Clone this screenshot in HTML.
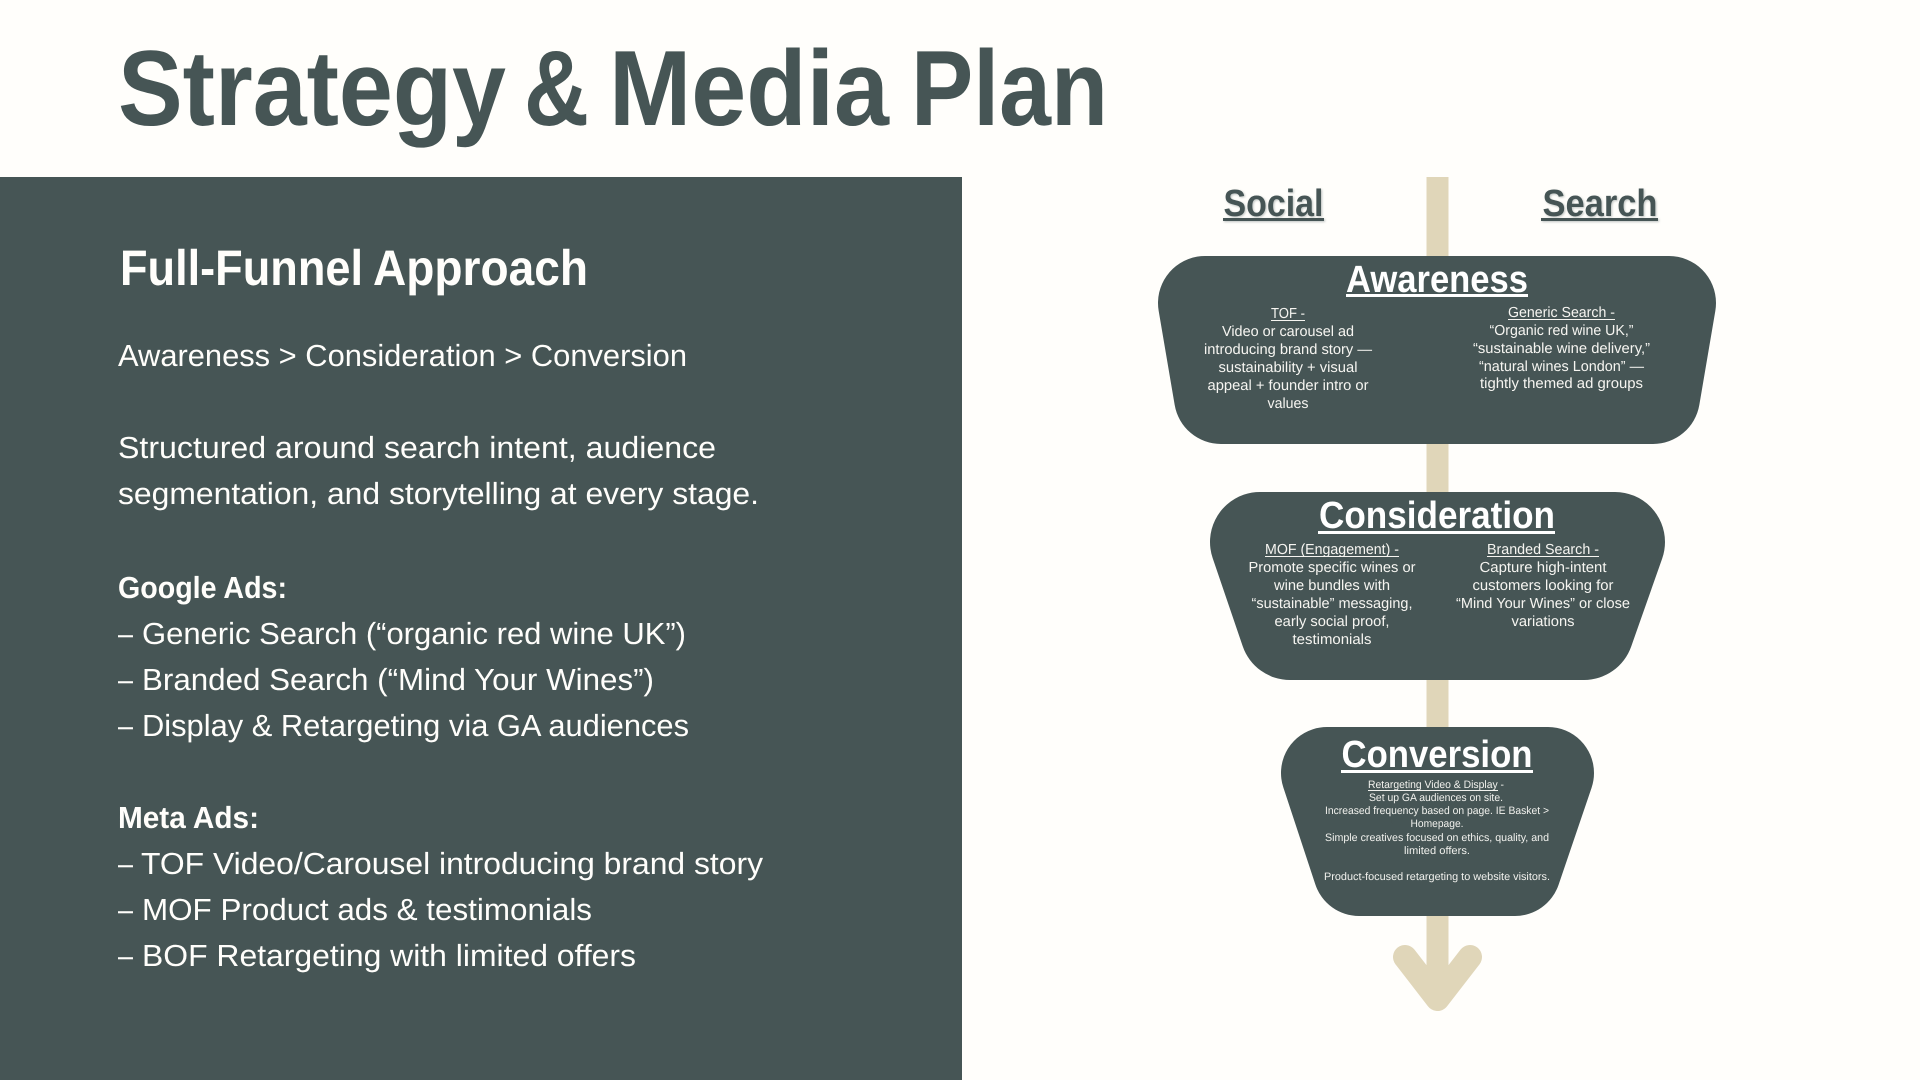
<!DOCTYPE html>
<html><head><meta charset="utf-8"><title>Strategy &amp; Media Plan</title>
<style>
html,body{margin:0;padding:0;background:#fffefb}
svg{display:block}
text{font-family:"Liberation Sans",Arial,sans-serif;text-rendering:geometricPrecision}
.b{font-size:30.5px;fill:#fffefb}
.bb{font-size:30.5px;fill:#fffefb;font-weight:bold}
.h{font-size:38px;font-weight:bold;fill:#fff;text-anchor:middle}
.s{font-size:14.6px;fill:#f6f5f1;text-anchor:middle}
.x{font-size:10.8px;fill:#f2f2ee;text-anchor:middle}
.d{font-size:38px;font-weight:bold;fill:#465555;text-anchor:middle}
.t{font-size:107px;font-weight:bold;fill:#465555}
.f{font-size:50px;font-weight:bold;fill:#fffefb}
</style></head>
<body>
<svg xmlns="http://www.w3.org/2000/svg" width="1920" height="1080" viewBox="0 0 1920 1080">
<rect width="1920" height="1080" fill="#fffefb"/>
<rect x="0" y="177" width="962" height="903" fill="#465555"/>

<text class="t" x="118" y="125" textLength="388" lengthAdjust="spacingAndGlyphs">Strategy</text>
<text class="t" x="524" y="125" textLength="65" lengthAdjust="spacingAndGlyphs">&amp;</text>
<text class="t" x="609" y="125" textLength="280" lengthAdjust="spacingAndGlyphs">Media</text>
<text class="t" x="911" y="125" textLength="197" lengthAdjust="spacingAndGlyphs">Plan</text>
<text class="f" x="120" y="285" textLength="243" lengthAdjust="spacingAndGlyphs">Full-Funnel</text>
<text class="f" x="373" y="285" textLength="215" lengthAdjust="spacingAndGlyphs">Approach</text>

<text class="b" x="118" y="366" textLength="569" lengthAdjust="spacingAndGlyphs">Awareness &gt; Consideration &gt; Conversion</text>
<text class="b" x="118" y="458" textLength="598" lengthAdjust="spacingAndGlyphs">Structured around search intent, audience</text>
<text class="b" x="118" y="504" textLength="641" lengthAdjust="spacingAndGlyphs">segmentation, and storytelling at every stage.</text>
<text class="bb" x="118" y="598" textLength="169" lengthAdjust="spacingAndGlyphs">Google Ads:</text>
<text class="b" x="118" y="644" textLength="15" lengthAdjust="spacingAndGlyphs">–</text>
<text class="b" x="142" y="644" textLength="544" lengthAdjust="spacingAndGlyphs">Generic Search (“organic red wine UK”)</text>
<text class="b" x="118" y="690" textLength="15" lengthAdjust="spacingAndGlyphs">–</text>
<text class="b" x="142" y="690" textLength="512" lengthAdjust="spacingAndGlyphs">Branded Search (“Mind Your Wines”)</text>
<text class="b" x="118" y="736" textLength="15" lengthAdjust="spacingAndGlyphs">–</text>
<text class="b" x="142" y="736" textLength="547" lengthAdjust="spacingAndGlyphs">Display &amp; Retargeting via GA audiences</text>
<text class="bb" x="118" y="828" textLength="141" lengthAdjust="spacingAndGlyphs">Meta Ads:</text>
<text class="b" x="118" y="874" textLength="15" lengthAdjust="spacingAndGlyphs">–</text>
<text class="b" x="141" y="874" textLength="622" lengthAdjust="spacingAndGlyphs">TOF Video/Carousel introducing brand story</text>
<text class="b" x="118" y="920" textLength="15" lengthAdjust="spacingAndGlyphs">–</text>
<text class="b" x="142" y="920" textLength="450" lengthAdjust="spacingAndGlyphs">MOF Product ads &amp; testimonials</text>
<text class="b" x="118" y="966" textLength="15" lengthAdjust="spacingAndGlyphs">–</text>
<text class="b" x="142" y="966" textLength="494" lengthAdjust="spacingAndGlyphs">BOF Retargeting with limited offers</text>

<!-- axis and arrow -->
<rect x="1426.5" y="177" width="22" height="825" fill="#e0d6b9"/>
<polyline points="1405,957 1437.5,999 1470,957" fill="none" stroke="#e0d6b9" stroke-width="24" stroke-linecap="round" stroke-linejoin="round"/>

<!-- funnel shapes -->
<polygon points="1205,303 1669,303 1653,397 1221,397" fill="#465555" stroke="#465555" stroke-width="94" stroke-linejoin="round"/>
<polygon points="1260,542 1615,542 1584,630 1290,630" fill="#465555" stroke="#465555" stroke-width="100" stroke-linejoin="round"/>
<polygon points="1327,773 1548,773 1515,870 1359,870" fill="#465555" stroke="#465555" stroke-width="92" stroke-linejoin="round"/>

<!-- column heads -->
<g style="filter:drop-shadow(1px 1px 1px rgba(70,85,85,.35))">
<text class="d" x="1273.5" y="216" textLength="100" lengthAdjust="spacingAndGlyphs">Social</text>
<rect x="1223" y="218" width="101" height="3" fill="#465555"/>
<text class="d" x="1600" y="216" textLength="115" lengthAdjust="spacingAndGlyphs">Search</text>
<rect x="1541" y="218" width="117" height="3" fill="#465555"/>
</g>

<!-- Awareness -->
<text class="h" x="1437" y="292" textLength="182" lengthAdjust="spacingAndGlyphs">Awareness</text>
<rect x="1346" y="294" width="182" height="3" fill="#fff"/>
<text class="s" x="1288" y="318" textLength="34" lengthAdjust="spacingAndGlyphs">TOF -</text>
<rect x="1271" y="320" width="34" height="1" fill="#f6f5f1"/>
<text class="s" x="1288" y="336" textLength="132" lengthAdjust="spacingAndGlyphs">Video or carousel ad</text>
<text class="s" x="1288" y="354" textLength="168" lengthAdjust="spacingAndGlyphs">introducing brand story —</text>
<text class="s" x="1288" y="372" textLength="139" lengthAdjust="spacingAndGlyphs">sustainability + visual</text>
<text class="s" x="1288" y="390" textLength="161" lengthAdjust="spacingAndGlyphs">appeal + founder intro or</text>
<text class="s" x="1288" y="408" textLength="41" lengthAdjust="spacingAndGlyphs">values</text>
<text class="s" x="1561.5" y="317" textLength="107" lengthAdjust="spacingAndGlyphs">Generic Search -</text>
<rect x="1508" y="319" width="107" height="1" fill="#f6f5f1"/>
<text class="s" x="1561.5" y="335" textLength="144" lengthAdjust="spacingAndGlyphs">“Organic red wine UK,”</text>
<text class="s" x="1561.5" y="353" textLength="177" lengthAdjust="spacingAndGlyphs">“sustainable wine delivery,”</text>
<text class="s" x="1561.5" y="371" textLength="165" lengthAdjust="spacingAndGlyphs">“natural wines London” —</text>
<text class="s" x="1561.5" y="388" textLength="163" lengthAdjust="spacingAndGlyphs">tightly themed ad groups</text>

<!-- Consideration -->
<text class="h" x="1437" y="528" textLength="236" lengthAdjust="spacingAndGlyphs">Consideration</text>
<rect x="1318" y="531" width="237" height="3" fill="#fff"/>
<text class="s" x="1332" y="554" textLength="134" lengthAdjust="spacingAndGlyphs">MOF (Engagement) -</text>
<rect x="1265" y="556" width="134" height="1" fill="#f6f5f1"/>
<text class="s" x="1332" y="572" textLength="167" lengthAdjust="spacingAndGlyphs">Promote specific wines or</text>
<text class="s" x="1332" y="590" textLength="116" lengthAdjust="spacingAndGlyphs">wine bundles with</text>
<text class="s" x="1332" y="608" textLength="161" lengthAdjust="spacingAndGlyphs">“sustainable” messaging,</text>
<text class="s" x="1332" y="626" textLength="115" lengthAdjust="spacingAndGlyphs">early social proof,</text>
<text class="s" x="1332" y="644" textLength="79" lengthAdjust="spacingAndGlyphs">testimonials</text>
<text class="s" x="1543" y="554" textLength="112" lengthAdjust="spacingAndGlyphs">Branded Search -</text>
<rect x="1487" y="556" width="112" height="1" fill="#f6f5f1"/>
<text class="s" x="1543" y="572" textLength="127" lengthAdjust="spacingAndGlyphs">Capture high-intent</text>
<text class="s" x="1543" y="590" textLength="141" lengthAdjust="spacingAndGlyphs">customers looking for</text>
<text class="s" x="1543" y="608" textLength="174" lengthAdjust="spacingAndGlyphs">“Mind Your Wines” or close</text>
<text class="s" x="1543" y="626" textLength="63" lengthAdjust="spacingAndGlyphs">variations</text>

<!-- Conversion -->
<text class="h" x="1437" y="767" textLength="191" lengthAdjust="spacingAndGlyphs">Conversion</text>
<rect x="1341" y="770" width="192" height="3" fill="#fff"/>
<text class="x" x="1436" y="788" textLength="136" lengthAdjust="spacingAndGlyphs">Retargeting Video &amp; Display -</text>
<rect x="1368" y="790" width="130" height="1" fill="#f2f2ee"/>
<text class="x" x="1436" y="801" textLength="134" lengthAdjust="spacingAndGlyphs">Set up GA audiences on site.</text>
<text class="x" x="1437" y="814" textLength="224" lengthAdjust="spacingAndGlyphs">Increased frequency based on page. IE Basket &gt;</text>
<text class="x" x="1437" y="827" textLength="53" lengthAdjust="spacingAndGlyphs">Homepage.</text>
<text class="x" x="1437" y="841" textLength="224" lengthAdjust="spacingAndGlyphs">Simple creatives focused on ethics, quality, and</text>
<text class="x" x="1437" y="854" textLength="66" lengthAdjust="spacingAndGlyphs">limited offers.</text>
<text class="x" x="1437" y="880" textLength="226" lengthAdjust="spacingAndGlyphs">Product-focused retargeting to website visitors.</text>
</svg>
</body></html>
